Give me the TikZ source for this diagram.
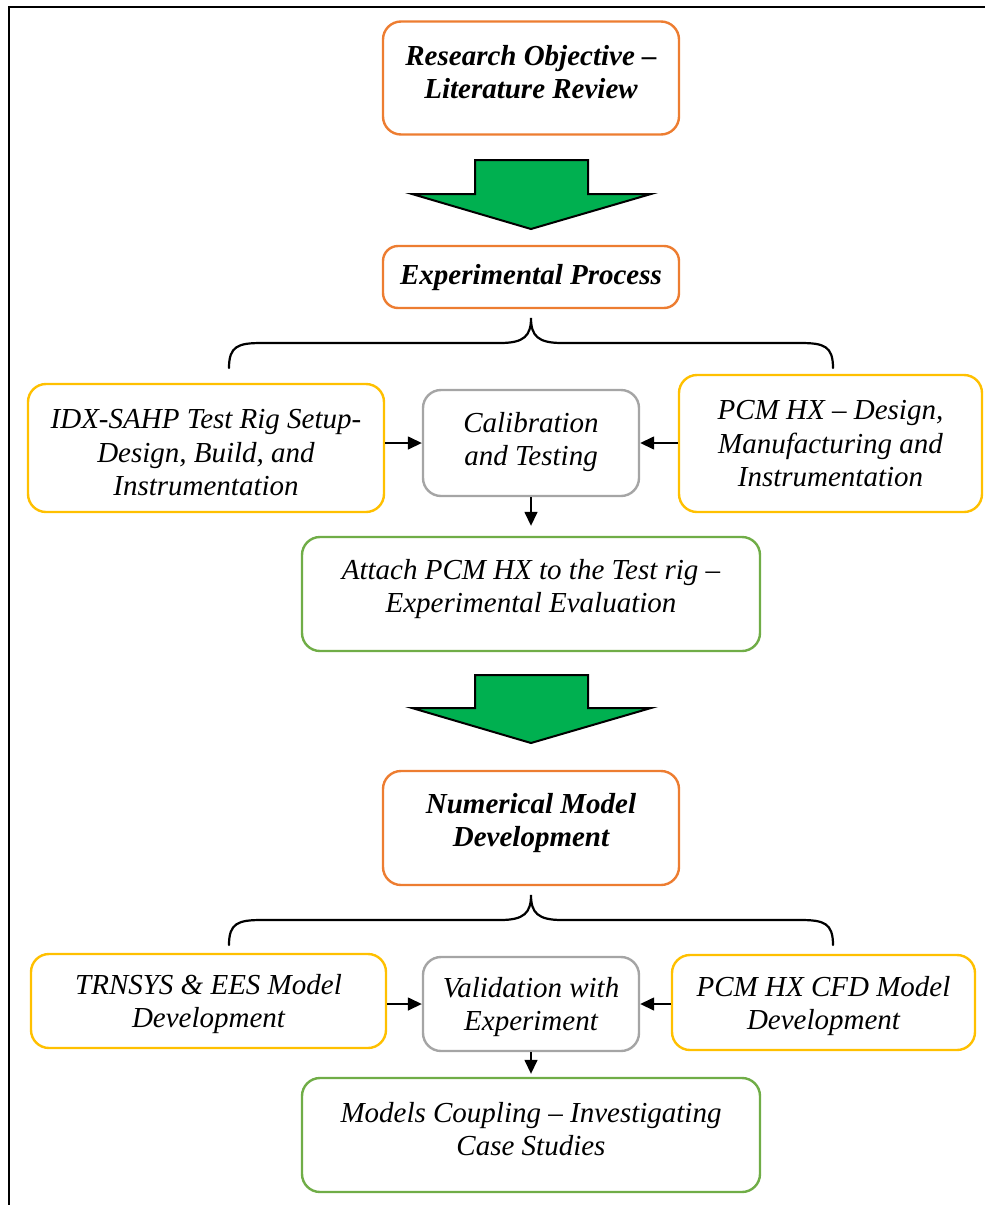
\documentclass[tikz,border=0pt]{standalone}
\usepackage{fontspec}
\setmainfont{Liberation Serif}
\usetikzlibrary{arrows.meta}
\definecolor{boxorange}{HTML}{ED7D31}
\definecolor{boxyellow}{HTML}{FFC000}
\definecolor{boxgray}{HTML}{A5A5A5}
\definecolor{boxgreen}{HTML}{70AD47}
\definecolor{bigarrow}{HTML}{00B050}
\newcommand{\bodyfont}{\fontsize{29}{33.5}\selectfont\itshape}
\newcommand{\headfont}{\fontsize{29}{33.5}\selectfont\bfseries\itshape}
\tikzset{
  box/.style={draw, line width=2.4pt, rounded corners=18pt, inner sep=0pt, fill=white},
  orangebox/.style={box, draw=boxorange},
  yellowbox/.style={box, draw=boxyellow},
  graybox/.style={box, draw=boxgray},
  greenbox/.style={box, draw=boxgreen},
  lbl/.style={align=center, inner sep=0pt, font=\bodyfont},
  headlbl/.style={align=center, inner sep=0pt, font=\headfont},
  link/.style={line width=1.5pt, -{Triangle[length=14pt,width=13pt]}},
  brace/.style={line width=2.2pt, line cap=round},
  stagearrow/.style={fill=bigarrow, draw=black, line width=2pt, line join=miter}
}
\begin{document}
\begin{tikzpicture}[x=1pt,y=-1pt]
\useasboundingbox (0,0) rectangle (985,1205);
% page frame (top and left edges)
\draw[line width=2pt] (9,1205) -- (9,7) -- (985,7);

% ---- stage 1 ----
\node[orangebox, minimum width=296pt, minimum height=113pt] (ro) at (531,78) {};
\node[headlbl] (ro-t) at (531,72) {Research Objective --\\Literature Review};

\draw[stagearrow] (475,160) -- (588,160) -- (588,194) -- (651,194) -- (531,229)
  -- (412,194) -- (475,194) -- cycle;

% ---- stage 2: experimental process ----
\node[orangebox, rounded corners=15pt, minimum width=296pt, minimum height=62pt] (ep) at (531,277) {};
\node[headlbl] (ep-t) at (531,278) {Experimental Process};

\coordinate (b1l) at (229,368);
\coordinate (b1c) at (531,318);
\coordinate (b1r) at (833,368);
\draw[brace] (b1l) .. controls (229,346) and (238,343) .. (262,343) -- (500,343)
  .. controls (524,343) and (531,336) .. (b1c)
  .. controls (531,336) and (538,343) .. (562,343) -- (800,343)
  .. controls (824,343) and (833,346) .. (b1r);

\node[yellowbox, minimum width=356pt, minimum height=128pt] (idx) at (206,448) {};
\node[lbl] (idx-t) at (206,453) {IDX-SAHP Test Rig Setup-\\Design, Build, and\\Instrumentation};

\node[graybox, minimum width=216pt, minimum height=106pt] (cal) at (531,443) {};
\node[lbl] (cal-t) at (531,442) {Calibration\\and Testing};

\node[yellowbox, minimum width=303pt, minimum height=137pt] (pcm) at (830.5,443.5) {};
\node[lbl] (pcm-t) at (830.5,444) {PCM HX -- Design,\\Manufacturing and\\Instrumentation};

\node[greenbox, minimum width=458pt, minimum height=114pt] (att) at (531,594) {};
\node[lbl] (att-t) at (531,589) {Attach PCM HX to the Test rig --\\Experimental Evaluation};

\draw[link] (idx.east |- cal.west) -- (cal.west);
\draw[link] (pcm.west |- cal.east) -- (cal.east);
\draw[link, shorten >=10pt] (cal.south) -- (att.north);

\draw[stagearrow] (475,675) -- (588,675) -- (588,708) -- (651,708) -- (531,743)
  -- (412,708) -- (475,708) -- cycle;

% ---- stage 3: numerical model ----
\node[orangebox, minimum width=296pt, minimum height=114pt] (nm) at (531,828) {};
\node[headlbl] (nm-t) at (531,823) {Numerical Model\\Development};

\coordinate (b2l) at (229,945);
\coordinate (b2c) at (531,895);
\coordinate (b2r) at (833,945);
\draw[brace] (b2l) .. controls (229,923) and (238,920) .. (262,920) -- (500,920)
  .. controls (524,920) and (531,913) .. (b2c)
  .. controls (531,913) and (538,920) .. (562,920) -- (800,920)
  .. controls (824,920) and (833,923) .. (b2r);

\node[yellowbox, minimum width=355pt, minimum height=94pt] (trn) at (208.5,1001) {};
\node[lbl] (trn-t) at (208.5,1004) {TRNSYS \& EES Model\\Development};

\node[graybox, minimum width=216pt, minimum height=94pt] (val) at (531,1004) {};
\node[lbl] (val-t) at (531,1007) {Validation with\\Experiment};

\node[yellowbox, minimum width=303pt, minimum height=95pt] (cfd) at (823.5,1002.5) {};
\node[lbl] (cfd-t) at (823.5,1006) {PCM HX CFD Model\\Development};

\node[greenbox, minimum width=458pt, minimum height=114pt] (mc) at (531,1135) {};
\node[lbl] (mc-t) at (531,1129) {Models Coupling -- Investigating\\Case Studies};

\draw[link] (trn.east |- val.west) -- (val.west);
\draw[link] (cfd.west |- val.east) -- (val.east);
\draw[link, shorten >=3pt] (val.south) -- (mc.north);
\end{tikzpicture}
\end{document}
